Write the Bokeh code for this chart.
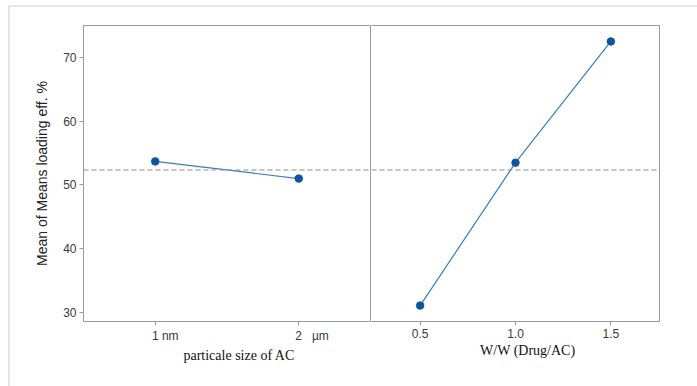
from bokeh.plotting import figure
from bokeh.layouts import row
from bokeh.models import Span, FixedTicker, Range1d, LinearAxis
from bokeh.embed import file_html
from bokeh.resources import INLINE

# Data
size_levels = ["1 nm", "2   µm"]
size_means = [53.7, 51.0]
ratio_levels = [0.5, 1.0, 1.5]
ratio_means = [31.1, 53.5, 72.5]
grand_mean = 52.35
y_ticks = [30, 40, 50, 60, 70]

LINE_C = "#3b7cc4"
MARK_C = "#0b56a4"
AXIS_C = "#9a9a9a"
TICK_TXT = "#3a3a3a"
NB = "\u00a0"

yr = Range1d(28.6, 75.0)
xr1 = Range1d(0.5, 2.5)
xr2 = Range1d(0.245, 1.755)
size_pos = [i + 1 for i in range(len(size_levels))]

def add_frame_axes(p, locs):
    for loc in locs:
        p.add_layout(LinearAxis(ticker=FixedTicker(ticks=[])), loc)
        ax = getattr(p, loc)[-1]
        ax.major_label_text_font_size = "0px"
        ax.major_tick_out = 0
        ax.major_tick_in = 0
        ax.minor_tick_out = 0
        ax.minor_tick_in = 0
        ax.axis_line_color = AXIS_C

def style(p):
    p.grid.visible = False
    p.outline_line_color = None
    p.background_fill_color = "white"
    p.border_fill_color = "white"
    for ax in p.axis:
        ax.axis_line_color = AXIS_C
        ax.major_tick_line_color = AXIS_C
        ax.minor_tick_line_color = None
        ax.major_label_text_font = "Liberation Sans"
        ax.major_label_text_color = TICK_TXT
        ax.major_label_standoff = 3
    for ax in p.below + p.left:
        ax.major_tick_out = 4
        ax.major_tick_in = 0
        ax.major_label_text_font_size = "12px"
    for ax in p.below:
        ax.axis_label_text_font = "Liberation Serif"
        ax.axis_label_text_font_size = "14px"
        ax.axis_label_text_font_style = "normal"
        ax.axis_label_text_color = "#111111"
        ax.axis_label_standoff = 2

p1 = figure(width=361, height=379, x_range=xr1, y_range=yr,
            output_backend="svg", toolbar_location=None,
            min_border_left=73, min_border_right=1, min_border_top=18, min_border_bottom=65)
p1.line(size_pos, size_means, line_color=LINE_C, line_width=1.2)
p1.scatter(size_pos, size_means, size=7.5, fill_color=MARK_C, line_color=MARK_C)
p1.add_layout(Span(location=grand_mean, dimension="width", line_color="#8c8c8c",
                   line_dash="5 3", line_width=1))
add_frame_axes(p1, ["above", "right"])
style(p1)
p1.left[0].ticker = FixedTicker(ticks=y_ticks)
p1.left[0].axis_label = "Mean of Means loading eff. %"
p1.left[0].axis_label_text_font = "Liberation Sans"
p1.left[0].axis_label_text_font_size = "14px"
p1.left[0].axis_label_text_font_style = "normal"
p1.left[0].axis_label_text_color = "#222222"
p1.left[0].axis_label_standoff = 10
p1.below[0].ticker = FixedTicker(ticks=size_pos)
p1.below[0].major_label_overrides = {
    size_pos[0]: NB * 6 + size_levels[0].replace(" ", NB),
    size_pos[1]: NB * 8 + size_levels[1].replace(" ", NB),
}
p1.below[0].axis_label = NB * 7 + "particale size of AC"

p2 = figure(width=326, height=379, x_range=xr2, y_range=yr,
            output_backend="svg", toolbar_location=None, y_axis_location=None,
            min_border_left=0, min_border_right=38, min_border_top=18, min_border_bottom=65)
p2.line(ratio_levels, ratio_means, line_color=LINE_C, line_width=1.2)
p2.scatter(ratio_levels, ratio_means, size=7.5, fill_color=MARK_C, line_color=MARK_C)
p2.add_layout(Span(location=grand_mean, dimension="width", line_color="#8c8c8c",
                   line_dash="5 3", line_width=1))
add_frame_axes(p2, ["above", "right"])
style(p2)
p2.below[0].ticker = FixedTicker(ticks=ratio_levels)
p2.below[0].major_label_overrides = {0.5: "0.5", 1.0: "1.0", 1.5: "1.5"}
p2.below[0].axis_label = NB * 7 + "W/W (Drug/AC)"

layout = row(p1, p2, spacing=0,
             styles={"border-top": "2px solid #e6e6e6", "border-left": "2px solid #e6e6e6",
                     "margin-left": "8px", "margin-top": "5px"})

open("out.html", "w").write(file_html(layout, INLINE))
